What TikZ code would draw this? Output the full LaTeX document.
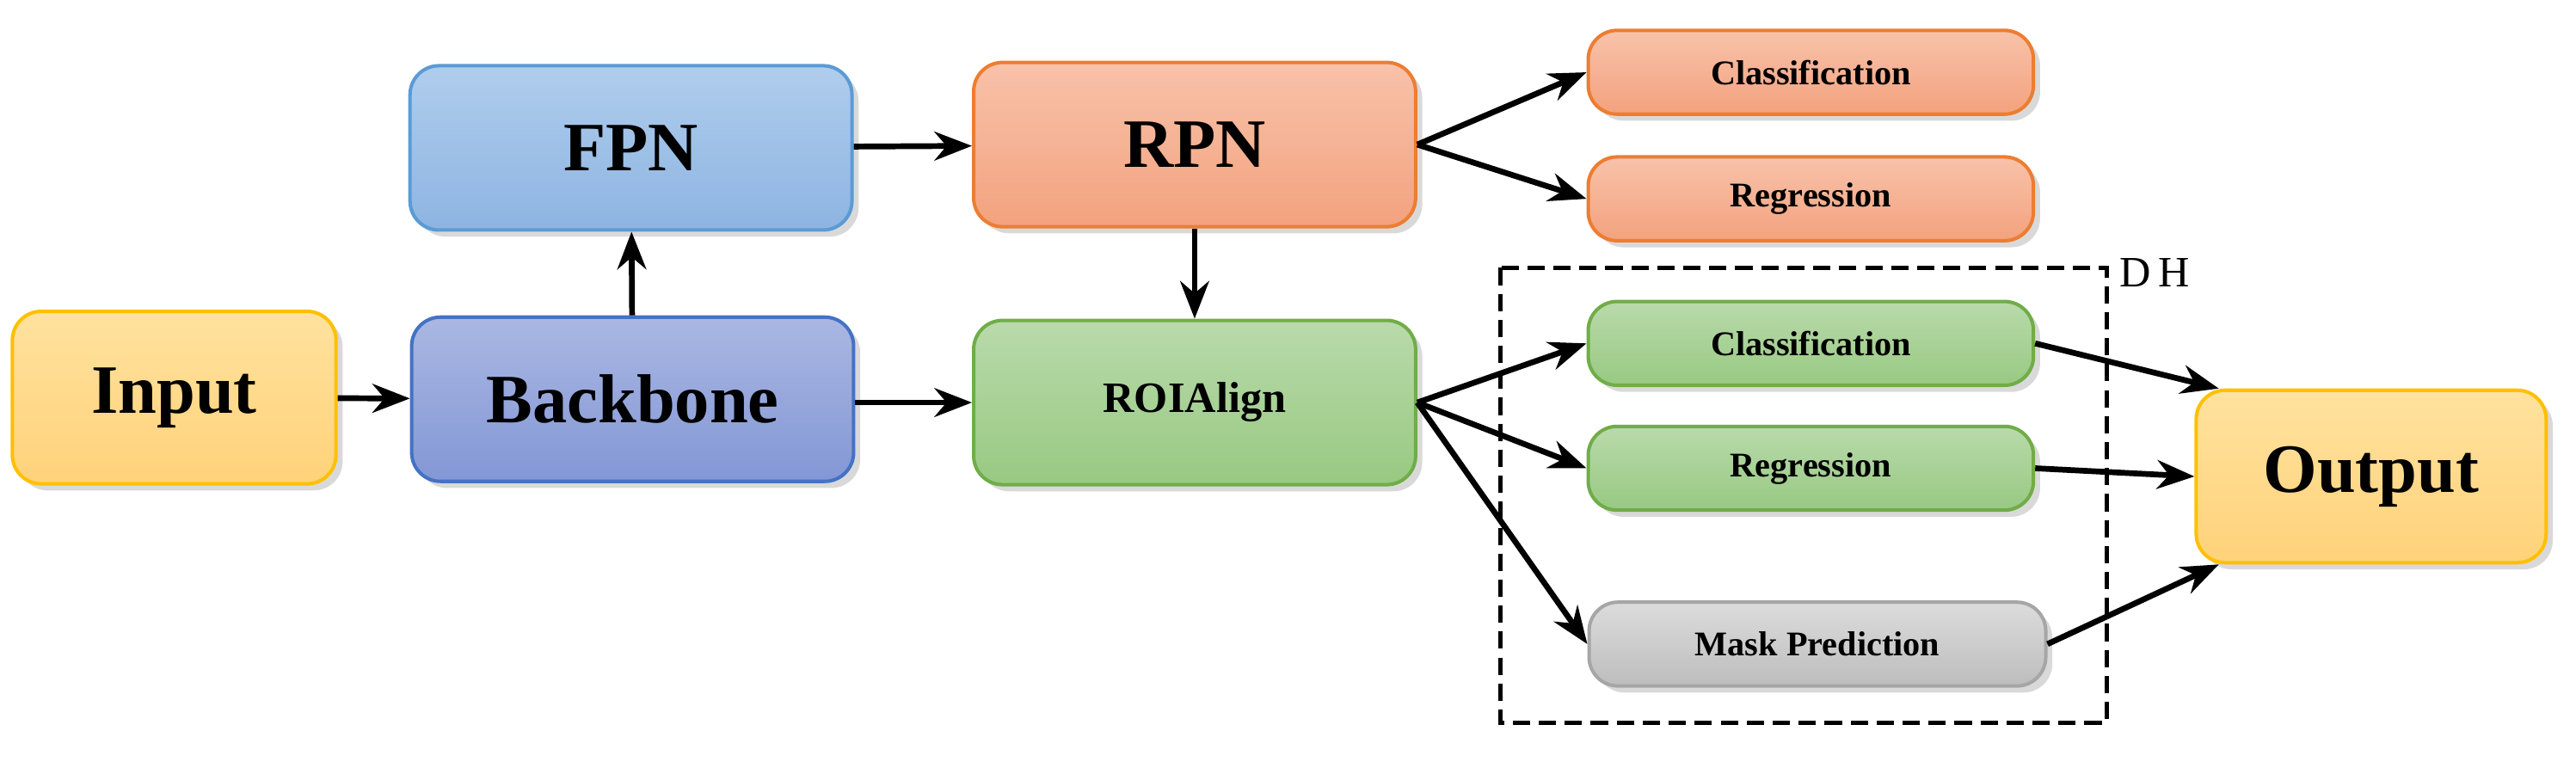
\documentclass[tikz,border=0pt]{standalone}
\usepackage{fontspec}
\setmainfont{Liberation Serif}
\usetikzlibrary{shadows,arrows.meta}
\definecolor{inA}{HTML}{FFE29E}\definecolor{inB}{HTML}{FFD27A}\definecolor{inD}{HTML}{FFC000}
\definecolor{fpA}{HTML}{B0CDEC}\definecolor{fpB}{HTML}{8DB4E2}\definecolor{fpD}{HTML}{5B9BD5}
\definecolor{bbA}{HTML}{AAB7E2}\definecolor{bbB}{HTML}{8397D6}\definecolor{bbD}{HTML}{4472C4}
\definecolor{rpA}{HTML}{F8C2AA}\definecolor{rpB}{HTML}{F3A27E}\definecolor{rpD}{HTML}{ED7D31}
\definecolor{grA}{HTML}{B9DAAB}\definecolor{grB}{HTML}{98C982}\definecolor{grD}{HTML}{70AD47}
\definecolor{gyA}{HTML}{DCDCDC}\definecolor{gyB}{HTML}{BDBDBD}\definecolor{gyD}{HTML}{A6A6A6}
\newcommand{\px}[2]{(#1*0.02,-#2*0.02)}

\begin{document}
\begin{tikzpicture}[
    blk/.style args={#1/#2/#3}{draw=#3, line width=1.2pt, rounded corners=10pt,
        top color=#1, bottom color=#2, drop shadow={opacity=0.3},
        font=\bfseries},
    big/.style={minimum width=5.38cm, minimum height=2cm, font=\bfseries\fontsize{24}{26}\selectfont},
    small/.style={minimum width=5.42cm, minimum height=1.02cm, font=\bfseries\fontsize{12}{14}\selectfont},
    arr/.style={-{Stealth[length=13pt,width=10pt]}, line width=2pt}
  ]
    \useasboundingbox (0,0) rectangle (31.36,-9.42);

    \node[blk=inA/inB/inD, minimum width=3.94cm, minimum height=2.1cm, font=\bfseries\fontsize{24}{26}\selectfont] (Input) at \px{106}{242} {Input};
    \node[blk=bbA/bbB/bbD, big] (Backbone) at \px{385}{243} {Backbone};
    \node[blk=fpA/fpB/fpD, big] (FPN) at \px{384}{90} {FPN};
    \node[blk=rpA/rpB/rpD, big] (RPN) at \px{727}{88} {RPN};
    \node[blk=grA/grB/grD, big, font=\bfseries\fontsize{15}{17}\selectfont] (ROI) at \px{727}{245} {ROIAlign};

    \node[blk=rpA/rpB/rpD, small] (ClsA) at \px{1102}{44} {Classification};
    \node[blk=rpA/rpB/rpD, small] (RegA) at \px{1102}{121} {Regression};
    \node[blk=grA/grB/grD, small] (ClsB) at \px{1102}{209} {Classification};
    \node[blk=grA/grB/grD, small] (RegB) at \px{1102}{285} {Regression};
    \node[blk=gyA/gyB/gyD, small, minimum width=5.56cm] (Mask) at \px{1106}{392} {Mask Prediction};

    \node[blk=inA/inB/inD, minimum width=4.26cm, minimum height=2.1cm, font=\bfseries\fontsize{24}{26}\selectfont] (Output) at \px{1443}{290} {Output};

    % DH frame
    \draw[dashed, line width=1.6pt, dash pattern=on 6pt off 3pt] \px{913}{163} rectangle \px{1282}{440};
    \node[anchor=west, font=\fontsize{15}{17}\selectfont] (DH) at \px{1284}{166} {D\,H};

    \draw[arr] (Input) -- (Backbone);
    \draw[arr] (Backbone) -- (FPN);
    \draw[arr] (FPN) -- (RPN);
    \draw[arr] (Backbone.east |- ROI.west) -- (ROI.west);
    \draw[arr] (RPN) -- (ROI);
    \draw[arr] (RPN.east) -- (ClsA.west);
    \draw[arr] (RPN.east) -- (RegA.west);
    \draw[arr] (ROI.east) -- (ClsB.west);
    \draw[arr] (ROI.east) -- (RegB.west);
    \draw[arr] (ROI.east) -- (Mask.west);
    \draw[arr] (ClsB.east) -- (Output.150);
    \draw[arr] (RegB.east) -- (Output.west);
    \draw[arr] (Mask.east) -- (Output.210);
\end{tikzpicture}
\end{document}
